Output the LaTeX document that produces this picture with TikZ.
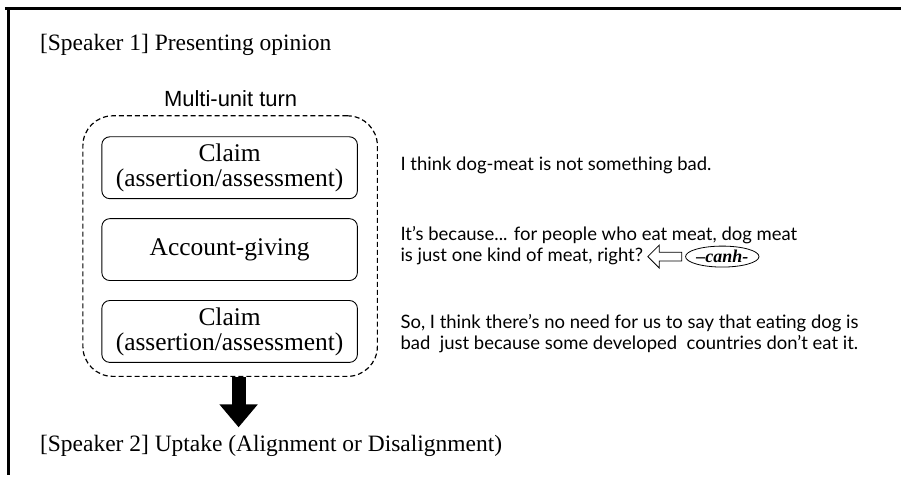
\documentclass[tikz,border=0pt]{standalone}
\usepackage{fontspec}
\setmainfont{Liberation Serif}
\setsansfont{Liberation Sans}
\newfontfamily\talkfont{Lato}
\usetikzlibrary{arrows.meta,shapes.arrows,shapes.geometric,positioning}

\tikzset{
  unitbox/.style={draw, line width=0.9pt, rounded corners=8pt, minimum width=256pt, minimum height=62pt,
    align=center, inner sep=0pt, font=\fontsize{25.5}{25}\selectfont},
  turnbox/.style={draw, line width=1.2pt, dash pattern=on 5pt off 3pt, rounded corners=30pt,
    minimum width=295pt, minimum height=261pt},
  talk/.style={anchor=west, inner sep=0pt, font=\talkfont\fontsize{18.5}{21}\selectfont},
  heading/.style={anchor=west, inner sep=0pt, font=\fontsize{23.5}{26}\selectfont},
}

\begin{document}
\begin{tikzpicture}[x=1pt,y=-1pt]
    \fill [white] (0,0) rectangle (902,476);
    \draw [line width=3pt] (5,9) -- (902,9);
    \draw [line width=3pt] (9,9) -- (9,476);

    \node [heading] (sp1) at (40,45) {[Speaker 1] Presenting opinion};
    \node [font=\sffamily\fontsize{22}{24}\selectfont] (mut) at (231,99) {Multi-unit turn};

    \node [turnbox] (turn) at (230.5,246.5) {};
    \node [unitbox] (C1) at (230,168) {Claim\\(assertion/assessment)};
    \node [unitbox] (AG) at (230,250) {Account-giving};
    \node [unitbox] (C2) at (230,332) {Claim\\(assertion/assessment)};

    \coordinate (tip) at (239,428);
    \draw [line width=14pt, -{Triangle[length=23pt, width=37pt]}] (turn.south -| tip) -- (tip);

    \node [heading] (sp2) at (40,447) {[Speaker 2] Uptake (Alignment or Disalignment)};

    \node [talk] (T1) at (401,166) {I think dog-meat is not something bad.};
    \node [talk] (T2a) at (401,236) {It’s because... for people who eat meat, dog meat};
    \node [talk] (T2b) at (401,257) {is just one kind of meat, right?};
    \node [single arrow, draw, thick, shape border rotate=180, minimum height=34pt,
      minimum width=17pt, inner xsep=0pt, inner ysep=4pt,
      right=4pt of T2b] (ptr) {};
    \node [ellipse, draw, thick, minimum width=66pt, minimum height=21pt, inner sep=0pt,
      font=\bfseries\itshape\fontsize{18}{18}\selectfont, right=3pt of ptr] (canh) {–canh-};
    \node [talk] (T3a) at (401,324) {So, I think there’s no need for us to say that eating dog is};
    \node [talk] (T3b) at (401,345) {bad\ \ just because some developed\ \ countries don’t eat it.};
\end{tikzpicture}
\end{document}
